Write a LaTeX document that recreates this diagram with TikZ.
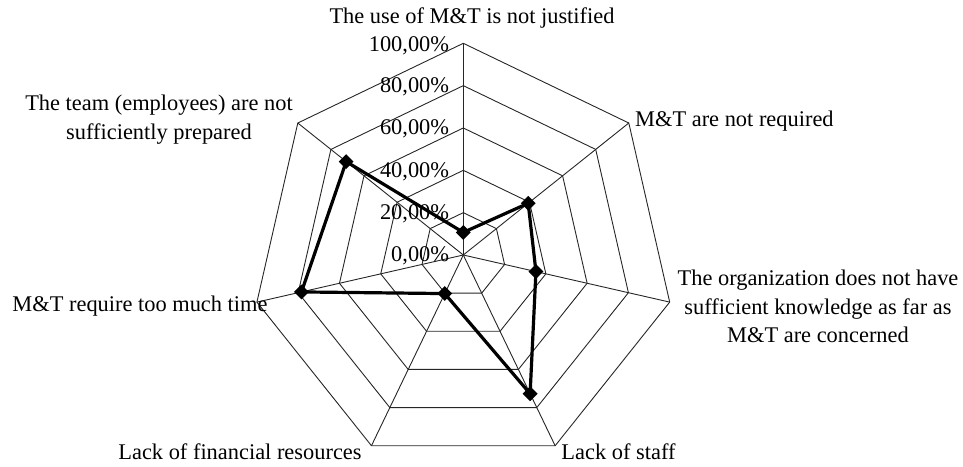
\documentclass[tikz,border=0pt]{standalone}
\usepackage{fontspec}
\setmainfont{Liberation Serif}
\usetikzlibrary{shapes.geometric}
\begin{document}
\begin{tikzpicture}[x=1pt,y=1pt,
  grid/.style={draw=black!85, line width=0.9pt, line join=miter},
  series/.style={draw=black, line width=3.2pt, line join=miter},
  marker/.style={diamond, fill=black, inner sep=0pt, minimum width=15pt, minimum height=15pt},
  lbl/.style={font=\fontsize{22.4}{28.5}\selectfont, inner sep=0pt, align=center},
  pct/.style={font=\fontsize{22.4}{28.5}\selectfont, inner sep=0pt, anchor=east}]
\useasboundingbox (0,-466) rectangle (963,0);
\begin{scope}[shift={(463.3,-255)}]
  % grid polygons
  \foreach \l in {1,...,5}{
    \draw[grid] (90:\l*42.34) -- (38.571:\l*42.34) -- (-12.857:\l*42.34) -- (-64.286:\l*42.34)
      -- (-115.714:\l*42.34) -- (-167.143:\l*42.34) -- (141.429:\l*42.34) -- cycle;
  }
  % spokes
  \coordinate (O) at (0,0);
  \foreach \a in {90,38.571,-12.857,-64.286,-115.714,-167.143,141.429}{
    \draw[grid] (O) -- (\a:211.7);
  }
  % percentage labels
  \node[pct] (t0) at (-14,-1) {0,00\%};
  \node[pct] (t1) at (-14,41.3) {20,00\%};
  \node[pct] (t2) at (-14,83.7) {40,00\%};
  \node[pct] (t3) at (-14,126) {60,00\%};
  \node[pct] (t4) at (-14,168.4) {80,00\%};
  \node[pct] (t5) at (-14,209) {100,00\%};
  % data points
  \node[marker] (p1) at (90:22.6) {};
  \node[marker] (p2) at (38.571:83) {};
  \node[marker] (p3) at (-12.857:74.5) {};
  \node[marker] (p4) at (-64.286:154) {};
  \node[marker] (p5) at (-115.714:42.8) {};
  \node[marker] (p6) at (-167.143:166) {};
  \node[marker] (p7) at (141.429:149.8) {};
  \draw[series] (p1.center) -- (p2.center) -- (p3.center) -- (p4.center) -- (p5.center)
    -- (p6.center) -- (p7.center) -- cycle;
\end{scope}
% axis labels
\node[lbl] (a1) at (472,-18) {The use of M\&T is not justified};
\node[lbl, anchor=west] (a2) at (635,-121.5) {M\&T are not required};
\node[lbl] (a3) at (818,-306.5) {The organization does not have\\ sufficient knowledge as far as\\ M\&T are concerned};
\node[lbl] (a4) at (618.5,-452) {Lack of staff};
\node[lbl] (a5) at (240,-452) {Lack of financial resources};
\node[lbl] (a6) at (140,-306.5) {M\&T require too much time};
\node[lbl] (a7) at (159,-119.5) {The team (employees) are not\\ sufficiently prepared};
\end{tikzpicture}
\end{document}
